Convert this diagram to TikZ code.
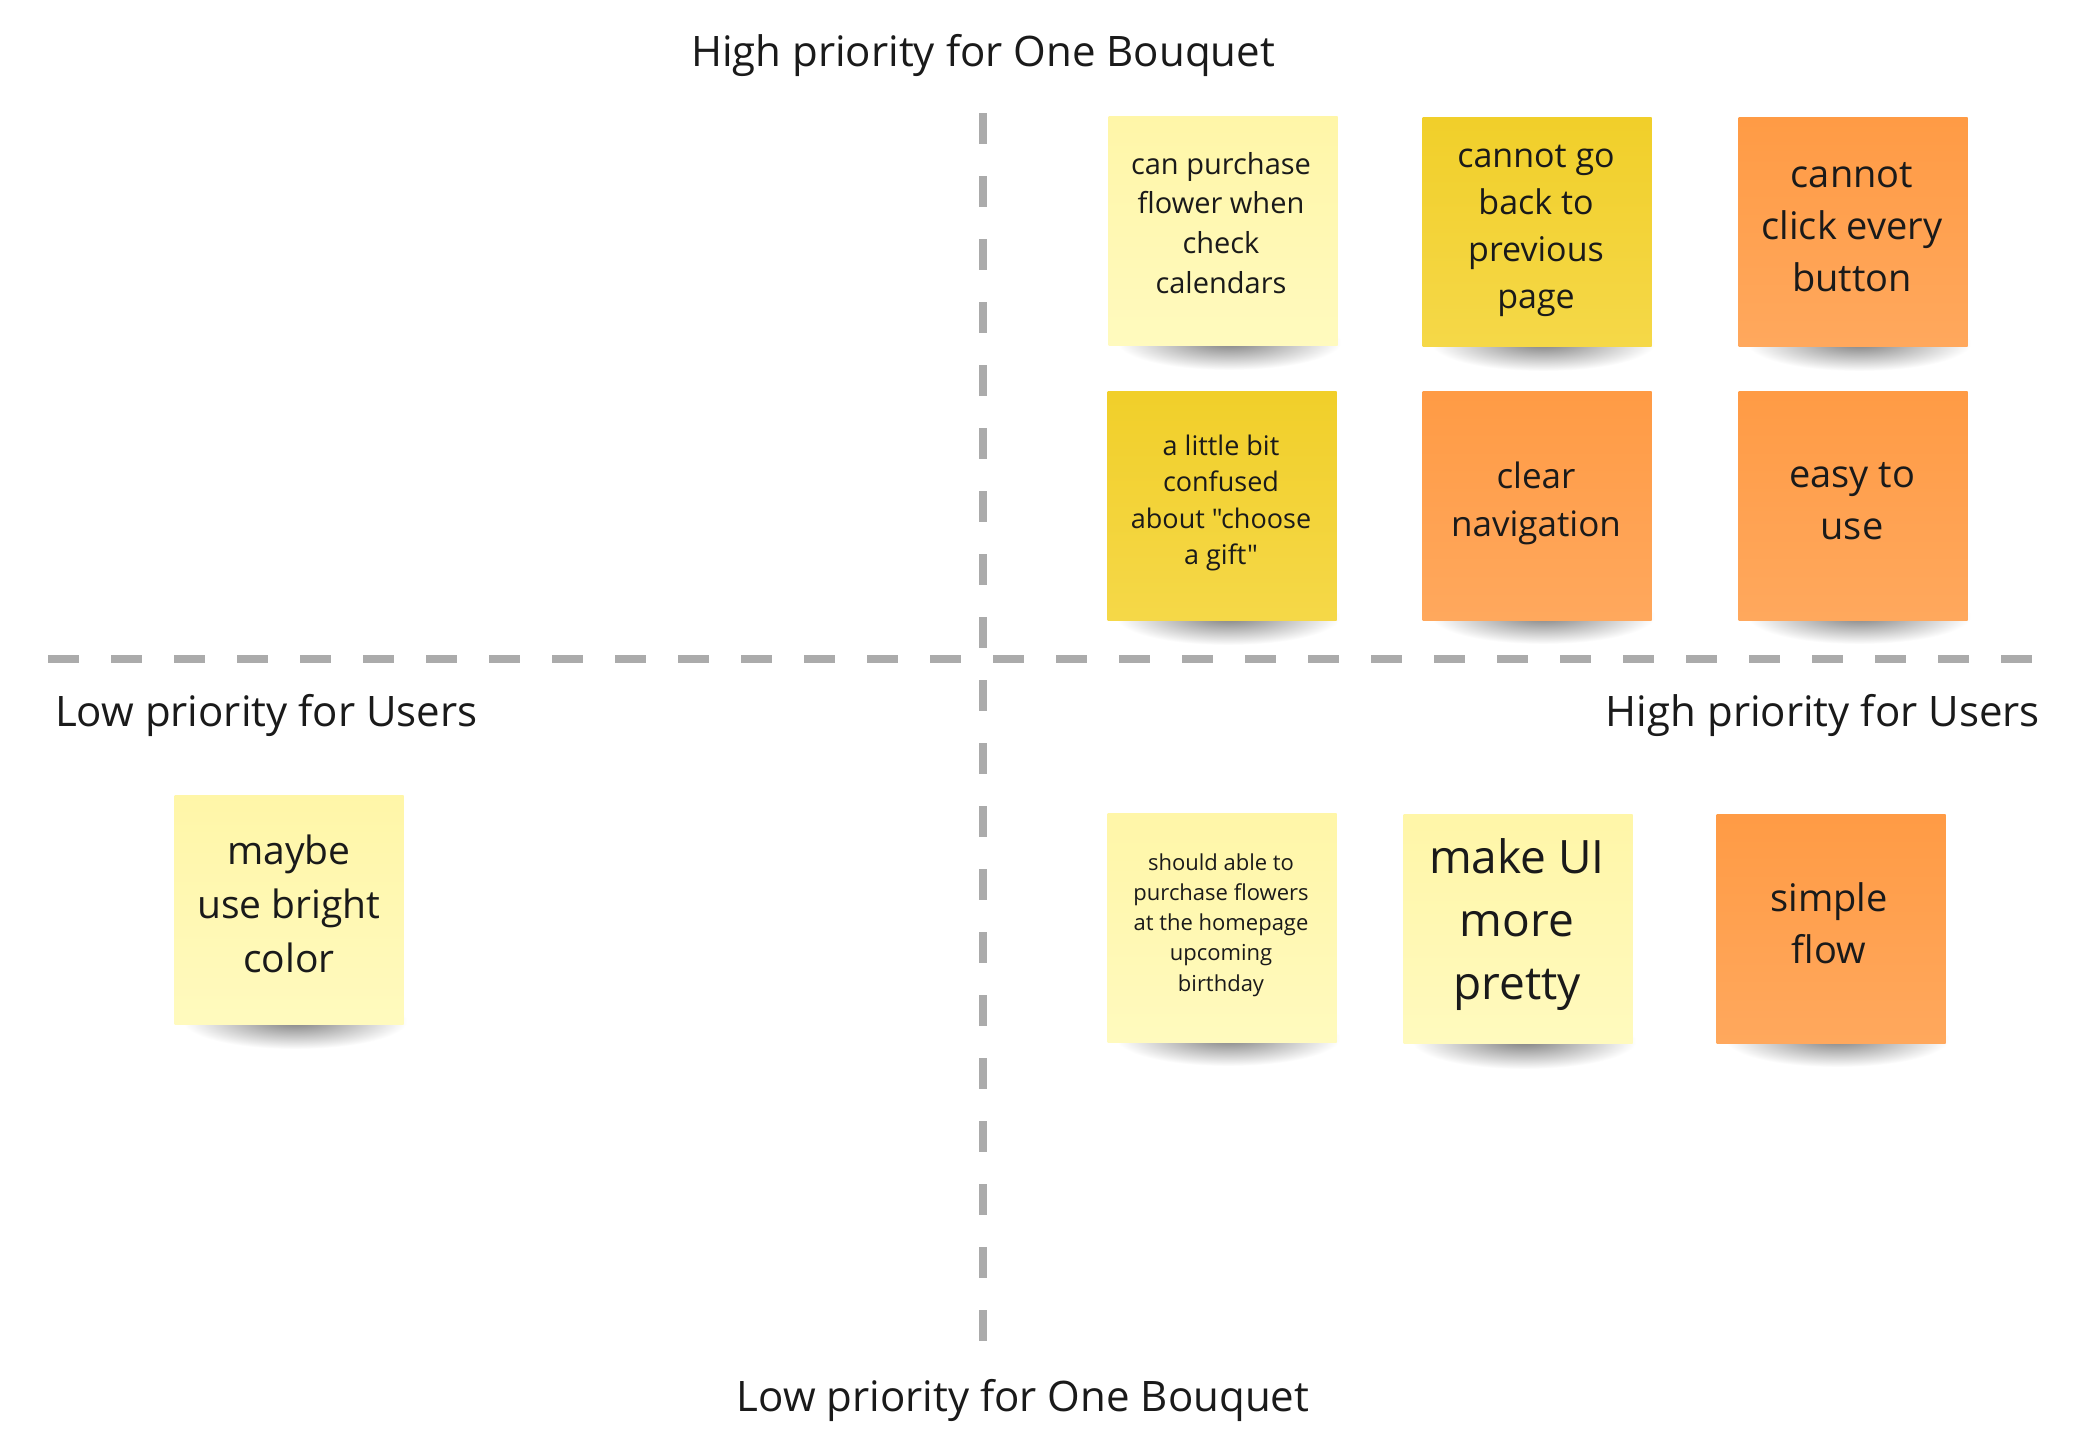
\documentclass[tikz,border=0pt]{standalone}
\usepackage{fontspec}
\setmainfont{Open Sans}[Ligatures=TeXOff]
\definecolor{lyTop}{HTML}{FFF6A8}
\definecolor{lyBot}{HTML}{FFFABE}
\definecolor{dyTop}{HTML}{F1CF2A}
\definecolor{dyBot}{HTML}{F5D848}
\definecolor{orTop}{HTML}{FF9B45}
\definecolor{orBot}{HTML}{FFA85D}
\definecolor{dashgray}{HTML}{ABABAB}
\definecolor{ink}{HTML}{1A1A1A}
\pgfdeclareradialshading{stickyshadow}{\pgfpoint{0bp}{0bp}}{color(0bp)=(black!50); color(9bp)=(black!32); color(25bp)=(white); color(50bp)=(white)}
\newcommand{\fs}[2]{\fontsize{#1}{#2}\selectfont}
\begin{document}
\begin{tikzpicture}[x=1pt,y=-1pt,
  axisline/.style={draw=dashgray, line width=8.5pt, dash pattern=on 31pt off 32pt},
  sticky/.style={rectangle, minimum width=229pt, minimum height=229pt, inner sep=0pt, draw=none},
  lightnote/.style={sticky, top color=lyTop, bottom color=lyBot},
  darknote/.style={sticky, top color=dyTop, bottom color=dyBot},
  orangenote/.style={sticky, top color=orTop, bottom color=orBot},
  notetext/.style={align=center, text=ink, inner sep=0pt},
  axislabel/.style={text=ink, inner sep=0pt, font=\fs{42}{50}}
]
\useasboundingbox (0,0) rectangle (2100,1443);
\fill[white] (0,0) rectangle (2100,1443);

% axes
\coordinate (vtop) at (983,113);
\coordinate (vbot) at (983,1341);
\coordinate (hleft) at (48,659);
\coordinate (hright) at (2036,659);
\draw[axisline] (vtop) -- (vbot);
\draw[axisline] (hleft) -- (hright);

% axis labels
\node[axislabel] (ltop) at (983,55) {High priority for One Bouquet};
\node[axislabel] (lbot) at (1023,1400) {Low priority for One Bouquet};
\node[axislabel, anchor=west] (lleft) at (55,715) {Low priority for Users};
\node[axislabel, anchor=east] (lright) at (2040,715) {High priority for Users};

% shadows
\foreach \cx/\by in {1223/346, 1537/347, 1853/347, 1222/621, 1537/620, 1853/620, 289/1025, 1222/1042, 1518/1045, 1831/1043}{
  \shade[shading=stickyshadow] (\cx+6,\by-4) ellipse (112pt and 28pt);
}

% notes
\node[lightnote] (A) at (1223,231) {};
\node[darknote] (B) at (1537,232) {};
\node[orangenote] (C) at (1853,232) {};
\node[darknote] (D) at (1222,506) {};
\node[orangenote] (E) at (1537,506) {};
\node[orangenote] (F) at (1853,506) {};
\node[lightnote] (G) at (289,910) {};
\node[lightnote] (H) at (1222,928) {};
\node[lightnote] (I) at (1518,929) {};
\node[orangenote] (J) at (1831,929) {};

% note texts
\node[notetext, font=\fs{29}{39.8}] (At) at (1221,223) {can purchase\\flower when\\check\\calendars};
\node[notetext, font=\fs{34}{47}] (Bt) at (1536,231) {cannot go\\back to\\previous\\page};
\node[notetext, font=\fs{38}{52}] (Ct) at (1852,227) {cannot\\click every\\button};
\node[notetext, font=\fs{27}{36.6}] (Dt) at (1221,503) {a little bit\\confused\\about "choose\\a gift"};
\node[notetext, font=\fs{35}{48}] (Et) at (1536,503) {clear\\navigation};
\node[notetext, font=\fs{38}{52}] (Ft) at (1852,501) {easy to\\use};
\node[notetext, font=\fs{39}{54}] (Gt) at (289,904) {maybe\\use bright\\color};
\node[notetext, font=\fs{22}{30.2}] (Ht) at (1221,925) {should able to\\purchase flowers\\at the homepage\\upcoming\\birthday};
\node[notetext, font=\fs{46}{63}] (It) at (1517,925) {make UI\\more\\pretty};
\node[notetext, font=\fs{38}{52}] (Jt) at (1829,923) {simple\\flow};
\end{tikzpicture}
\end{document}
